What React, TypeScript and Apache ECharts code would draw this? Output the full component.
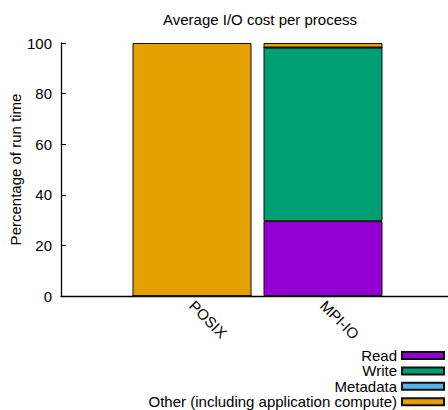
import React, { useEffect, useRef } from "react";
import * as echarts from "echarts";

// Slots 0 and 3 are empty padding categories so the two bars sit inside a wider axis.
const categories = ["", "POSIX", "MPI-IO", ""];
const readPct = [null, 0, 29.6, null];
const writePct = [null, 0, 68.6, null];
const metadataPct = [null, 0, 0, null];
const otherPct = [null, 100, 1.8, null];
const yTicks = { min: 0, max: 100, interval: 20 };

const FONT = "'Liberation Sans', Arial, Helvetica, sans-serif";

const seriesDefs = [
  { name: "Read", data: readPct, color: "#9400d3" },
  { name: "Write", data: writePct, color: "#009e73" },
  { name: "Metadata", data: metadataPct, color: "#56b4e9" },
  { name: "Other (including application compute)", data: otherPct, color: "#e69f00" },
];

export default function App() {
  const ref = useRef<HTMLDivElement>(null);

  useEffect(() => {
    document.body.style.margin = "0";
    const chart = echarts.init(ref.current!, null, { renderer: "svg" });
    chart.setOption({
      animation: false,
      backgroundColor: "#ffffff",
      textStyle: { fontFamily: FONT, color: "#000" },
      title: {
        text: "Average I/O cost per process",
        left: 255,
        textAlign: "center",
        top: 7,
        textStyle: { fontFamily: FONT, fontSize: 15, fontWeight: "normal", color: "#000" },
      },
      grid: {
        left: 61,
        top: 43,
        width: 393,
        height: 253,
        containLabel: false,
        outerBoundsMode: "none",
      },
      xAxis: {
        type: "category",
        data: categories,
        boundaryGap: false,
        axisLine: { lineStyle: { color: "#000", width: 1.3 } },
        axisTick: { show: false },
        axisLabel: {
          interval: 0,
          rotate: -45,
          margin: 7,
          fontSize: 15,
          fontFamily: FONT,
          color: "#000",
        },
        splitLine: { show: false },
      },
      yAxis: {
        type: "value",
        min: yTicks.min,
        max: yTicks.max,
        interval: yTicks.interval,
        name: "Percentage of run time",
        nameLocation: "middle",
        nameGap: 38,
        nameMoveOverlap: false,
        nameRotate: 90,
        nameTextStyle: { fontSize: 15, fontFamily: FONT, color: "#000" },
        axisLine: { show: true, lineStyle: { color: "#000", width: 1.3 } },
        axisTick: { show: true, inside: true, length: 5, lineStyle: { color: "#000" } },
        axisLabel: { fontSize: 15, fontFamily: FONT, color: "#000", margin: 9 },
        splitLine: { show: false },
      },
      legend: {
        orient: "vertical",
        right: 3,
        top: 348,
        height: 80,
        align: "right",
        icon: "rect",
        padding: 0,
        itemWidth: 42,
        itemHeight: 7,
        itemGap: 0.4,
        data: seriesDefs.map((s) => s.name),
        textStyle: { fontSize: 15, fontFamily: FONT, color: "#000", lineHeight: 15 },
      },
      series: seriesDefs.map((s) => ({
        name: s.name,
        type: "bar",
        stack: "total",
        barWidth: 119,
        data: s.data,
        itemStyle: { color: s.color, borderColor: "#111", borderWidth: 1 },
      })),
    });
    return () => chart.dispose();
  }, []);

  return <div ref={ref} style={{ width: 448, height: 410 }} />;
}
